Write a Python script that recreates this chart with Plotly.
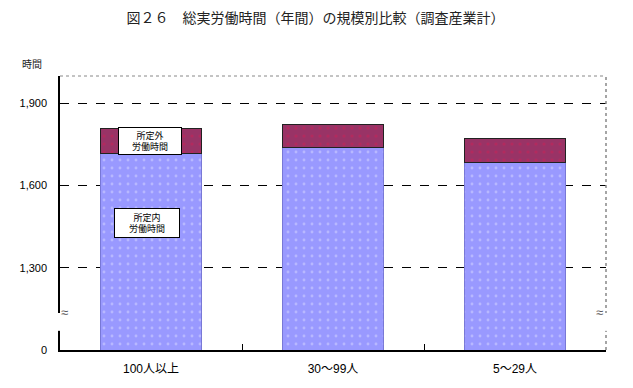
import plotly.graph_objects as go

categories = ["100人以上", "30～99人", "5～29人"]
scheduled = [1716, 1739, 1686]      # 所定内労働時間
overtime = [91, 85, 87]             # 所定外労働時間
tick_vals = [1000, 1300, 1600, 1900]
tick_text = ["0", "1,300", "1,600", "1,900"]

FONT = "Liberation Sans, Noto Sans CJK JP, sans-serif"
OFF = 8  # page body margin

W, H = 633 - OFF, 388 - OFF

fig = go.Figure()
fig.add_trace(go.Bar(
    x=categories, y=scheduled, name="所定内労働時間",
    marker=dict(color="#9999ff",
                line=dict(color="#6f6fcc", width=0.8),
                pattern=dict(shape=".", fgcolor="#d8d8ff", bgcolor="#9999ff",
                             size=8, solidity=0.1)),
))
fig.add_trace(go.Bar(
    x=categories, y=overtime, name="所定外労働時間",
    marker=dict(color="#993366",
                line=dict(color="#222222", width=1),
                pattern=dict(shape=".", fgcolor="#cc2255", bgcolor="#993366",
                             size=8, solidity=0.12)),
))

fig.update_layout(
    barmode="stack",
    bargap=0.443,
    width=W, height=H,
    margin=dict(l=55 - OFF, r=27, t=76 - OFF, b=37),
    paper_bgcolor="white", plot_bgcolor="white",
    showlegend=False,
    font=dict(family=FONT, size=11, color="black"),
    title=dict(text="図２６　総実労働時間（年間）の規模別比較（調査産業計）",
               x=(315.5 - OFF) / W, xref="container", xanchor="center",
               y=1 - (18 - OFF) / H, yref="container", yanchor="middle",
               font=dict(family="Noto Sans CJK JP", size=14, color="#222222")),
)

fig.update_yaxes(
    range=[1000, 2000],
    tickvals=tick_vals, ticktext=tick_text,
    showgrid=True, gridcolor="black", griddash="dash", gridwidth=1,
    zeroline=False,
    showline=True, linecolor="black", linewidth=1.5,
    ticks="outside", ticklen=9, tickcolor="white",
    tickfont=dict(size=11),
)
fig.update_xaxes(
    showline=True, linecolor="black", linewidth=1.5,
    tickson="boundaries", ticks="inside", ticklen=6, tickcolor="black",
    ticklabelstandoff=7,
    showgrid=False,
    tickfont=dict(size=12),
)

# top and right borders (dotted)
fig.add_shape(type="line", xref="paper", yref="paper", x0=0, x1=1, y0=1, y1=1,
              line=dict(color="#888888", width=1, dash="dot"))
fig.add_shape(type="line", xref="paper", yref="paper", x0=1, x1=1, y0=0, y1=1,
              line=dict(color="#888888", width=1.5, dash="dot"))

# axis break marks
for xp in (0, 1):
    fig.add_shape(type="rect", xref="paper", yref="paper",
                  x0=xp - 0.008, x1=xp + 0.008, y0=0.07, y1=0.135,
                  fillcolor="white", line=dict(width=0), layer="above")
    fig.add_annotation(x=xp, y=0.102, xref="paper", yref="paper",
                       text="≈", showarrow=False, xshift=-1,
                       font=dict(size=13, color="#555555"))

# label boxes
fig.add_annotation(x=categories[0], y=scheduled[0] + overtime[0] / 2,
                   text="所定外<br>労働時間", showarrow=False,
                   bgcolor="white", bordercolor="black", borderwidth=1,
                   width=62, height=26, borderpad=0, xshift=-1,
                   font=dict(family="Noto Sans CJK JP", size=9))
fig.add_annotation(x=categories[0], y=1465,
                   text="所定内<br>労働時間", showarrow=False,
                   bgcolor="white", bordercolor="black", borderwidth=1,
                   width=64, height=28, borderpad=0, xshift=-4,
                   font=dict(family="Noto Sans CJK JP", size=9))

# y-axis unit
fig.add_annotation(x=(27 - 55) / 551, y=(351 - 63) / 275, xref="paper", yref="paper",
                   text="時間", showarrow=False, xanchor="center", yanchor="middle",
                   font=dict(family="Noto Sans CJK JP", size=10, color="#222222"))

fig.write_html("out.html")
